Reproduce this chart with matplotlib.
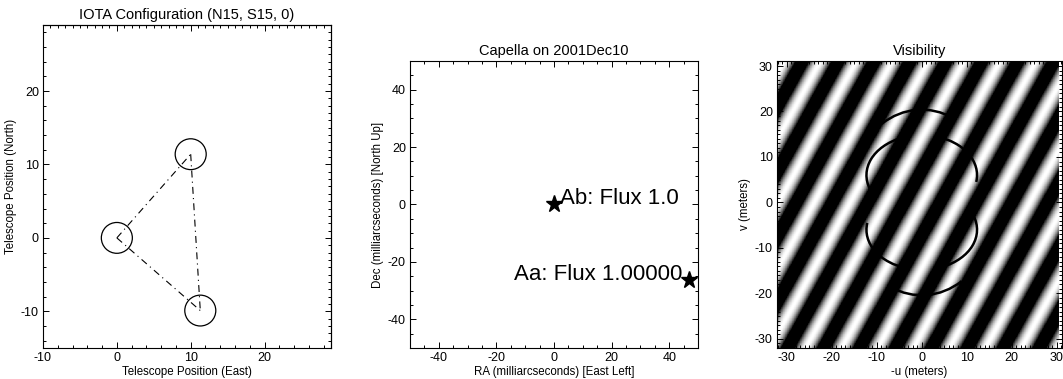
import numpy as np
import matplotlib.pyplot as plt
from matplotlib.patches import Circle, Arc
from matplotlib.ticker import MultipleLocator, NullFormatter

plt.rcParams['font.family'] = ['Liberation Sans', 'DejaVu Sans']
plt.rcParams['lines.scale_dashes'] = False
plt.rcParams['axes.unicode_minus'] = False

# telescope positions (east, north) in meters
tel_east = [0.0, 10.0, 11.3]
tel_north = [0.0, 11.4, -9.9]
tel_radius = 2.1
baselines = [(0, 1), (0, 2), (1, 2)]

# binary components (RA, Dec) in milliarcseconds
star_ra = [0.0, 47.0]
star_dec = [0.0, -26.2]
star_flux = [1.0, 1.0]
flux_labels = ["Ab: Flux 1.0", "Aa: Flux 1.00000"]

wavelength = 1.82e-6  # m
mas = np.pi / 180 / 3600 / 1000

# uv track arcs (center v, semi-axis u, semi-axis v, start angle, end angle)
arc_cv = [6.0, 6.0, -6.0, -6.0, 0.0, 0.0]
arc_a = [12.3, 12.3, 12.3, 12.3, 16.8, 16.8]
arc_b = [8.8, 8.8, 8.8, 8.8, 20.4, 20.4]
arc_t1 = [120, -7, 300, 173, 69.5, 249.5]
arc_t2 = [195, 69, 375, 249, 117.2, 297.2]

W, H = 1063, 379
fig = plt.figure(figsize=(W / 100, H / 100), dpi=100)


def box(l, r, t, b):
    return [l / W, 1 - b / H, (r - l) / W, (b - t) / H]


def idl_ticks(ax, major, minor, top=True):
    ax.xaxis.set_major_locator(MultipleLocator(major))
    ax.yaxis.set_major_locator(MultipleLocator(major))
    ax.xaxis.set_minor_locator(MultipleLocator(minor))
    ax.yaxis.set_minor_locator(MultipleLocator(minor))
    ax.tick_params(which='both', direction='in', top=top, right=top,
                   width=0.7, labelsize=9, pad=3)
    ax.tick_params(which='major', length=4.5)
    ax.tick_params(which='minor', length=2.2)
    for s in ax.spines.values():
        s.set_linewidth(0.8)


# --- panel 1: telescope layout ---
ax1 = fig.add_axes(box(43, 331, 25, 348))
for i, j in baselines:
    ax1.plot([tel_east[i], tel_east[j]], [tel_north[i], tel_north[j]],
             color='k', lw=0.8, ls=(0, (5, 3, 0.8, 3)))
for e, n in zip(tel_east, tel_north):
    ax1.add_patch(Circle((e, n), tel_radius, fill=False, lw=0.9, color='k'))
ax1.set_xlim(-10, 29)
ax1.set_ylim(-15, 29)
idl_ticks(ax1, 10, 2, top=False)
for side, axis in [('top', 'x'), ('right', 'y')]:
    sec = ax1.secondary_xaxis(side) if axis == 'x' else ax1.secondary_yaxis(side)
    sub = sec.xaxis if axis == 'x' else sec.yaxis
    sub.set_major_locator(MultipleLocator(10))
    sub.set_minor_locator(MultipleLocator(1))
    sub.set_major_formatter(NullFormatter())
    sec.tick_params(which='both', direction='in', width=0.7)
    sec.tick_params(which='major', length=4.5)
    sec.tick_params(which='minor', length=2.2)
    sec.spines[side].set_linewidth(0.8)
ax1.set_title("IOTA Configuration (N15, S15, 0)", fontsize=10.5, pad=4)
ax1.set_xlabel("Telescope Position (East)", fontsize=8.3, labelpad=1)
ax1.set_ylabel("Telescope Position (North)", fontsize=8.3, labelpad=3)

# --- panel 2: binary model ---
ax2 = fig.add_axes(box(410, 698, 61, 348))
ax2.plot(star_ra, star_dec, ls='none', marker='*', ms=12.5, color='k', clip_on=False)
ax2.text(star_ra[0] + 2.2, star_dec[0], flux_labels[0], fontsize=16, va='baseline')
ax2.text(star_ra[1] - 2.3, star_dec[1], flux_labels[1], fontsize=16,
         va='baseline', ha='right')
ax2.set_xlim(-50, 50)
ax2.set_ylim(-50, 50)
idl_ticks(ax2, 20, 5)
ax2.set_title("Capella on 2001Dec10", fontsize=10.5, pad=4)
ax2.set_xlabel("RA (milliarcseconds) [East Left]", fontsize=8.3, labelpad=1)
ax2.set_ylabel("Dec (milliarcseconds) [North Up]", fontsize=8.3, labelpad=3)

# --- panel 3: visibility in uv plane ---
ax3 = fig.add_axes(box(777, 1062, 61, 348))
ext = [-32.2, 30.4, -32.0, 31.1]
uu = np.linspace(ext[0], ext[1], 700)
vv = np.linspace(ext[2], ext[3], 700)
U, V = np.meshgrid(uu, vv)
phase = 2 * np.pi * (U * star_ra[1] + V * star_dec[1]) * mas / wavelength
vis = np.abs(star_flux[0] + star_flux[1] * np.exp(1j * phase)) / sum(star_flux)
ax3.imshow(vis, extent=ext, origin='lower', cmap='gray', vmin=0.55, vmax=1.0,
           aspect='auto', interpolation='nearest')
for cv, a, b, t1, t2 in zip(arc_cv, arc_a, arc_b, arc_t1, arc_t2):
    ax3.add_patch(Arc((0, cv), 2 * a, 2 * b, theta1=t1, theta2=t2,
                      lw=1.8, color='k'))
ax3.set_xlim(-32.2, 31.2)
ax3.set_ylim(-32.0, 31.1)
idl_ticks(ax3, 10, 1)
ax3.set_title("Visibility", fontsize=10.5, pad=4)
ax3.set_xlabel("-u (meters)", fontsize=8.3, labelpad=1)
ax3.set_ylabel("v (meters)", fontsize=8.3, labelpad=3)

fig.savefig("out.png", dpi=100)
